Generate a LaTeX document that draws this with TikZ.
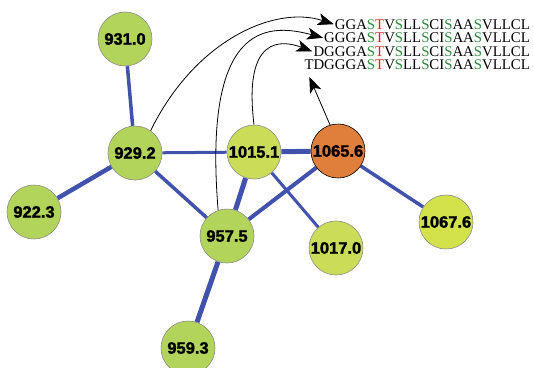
\documentclass[tikz,border=0pt]{standalone}
\usepackage{fontspec}
\setmainfont{Liberation Serif}
\setsansfont{Liberation Sans}[BoldFeatures={FakeBold=1.6}]
\usetikzlibrary{backgrounds,arrows.meta}
\definecolor{leaf}{HTML}{B3D45A}
\definecolor{lime}{HTML}{CBDD58}
\definecolor{pumpkin}{HTML}{DF7F3B}
\definecolor{bond}{HTML}{4152AD}
\definecolor{sgreen}{HTML}{2E8B3C}
\definecolor{tred}{HTML}{E02020}
\def\sS{\textcolor{sgreen}{S}}
\def\tT{\textcolor{tred}{T}}
\def\motif{GGA\sS\tT V\sS LL\sS CI\sS AA\sS VLLCL}

\begin{document}
\begin{tikzpicture}[x=1pt, y=-1pt,
  peak/.style={circle, minimum size=54pt, inner sep=0pt, draw=black!45, line width=0.6pt,
    font=\sffamily\bfseries\fontsize{16.5}{18}\selectfont},
  seq/.style={anchor=base east, inner sep=1pt, font=\fontsize{14.8}{16}\selectfont},
  link/.style={draw=bond},
  hop/.style={-{Stealth[length=16pt,width=12pt,inset=4pt]}, line width=0.8pt}]
\useasboundingbox (0,0) rectangle (534,367);

% peaks
\node[peak, fill=leaf] (p931) at (125,39) {931.0};
\node[peak, fill=leaf] (p929) at (135,153) {929.2};
\node[peak, fill=leaf] (p922) at (34,212) {922.3};
\node[peak, fill=leaf] (p957) at (227,236) {957.5};
\node[peak, fill=leaf] (p959) at (188,348) {959.3};
\node[peak, fill=lime] (p1015) at (254,152) {1015.1};
\node[peak, fill=lime] (p1017) at (336,248) {1017.0};
\node[peak, fill=lime!85!yellow] (p1067) at (446,222) {1067.6};
\node[peak, fill=pumpkin, draw=black] (p1065) at (338,151) {1065.6};

% sequences
\node[seq] (s1) at (531,29) {\motif};
\node[seq] (s2) at (531,42.6) {G\motif};
\node[seq] (s3) at (531,56.2) {DG\motif};
\node[seq] (s4) at (531,69.8) {TDG\motif};

% links
\begin{scope}[on background layer]
\draw[link, line width=3.5pt] (p929) -- (p931);
\draw[link, line width=4.5pt] (p929) -- (p922);
\draw[link, line width=3pt] (p929) -- (p1015);
\draw[link, line width=3.5pt] (p929) -- (p957);
\draw[link, line width=5pt] (p1015) -- (p1065);
\draw[link, line width=5pt] (p1015) -- (p957);
\draw[link, line width=4pt] (p957) -- (p1065);
\draw[link, line width=3pt] (p1015) -- (p1017);
\draw[link, line width=3.5pt] (p1065) -- (p1067);
\draw[link, line width=5pt] (p957) -- (p959);
\end{scope}

% arrows
\draw[hop] (p929.55) .. controls (195,40) and (275,5) .. (s1.west);
\draw[hop] (p957.109) .. controls (203,25) and (265,22) .. (s2.west);
\draw[hop] (p1015.90) .. controls (243,35) and (282,40) .. (s3.west);
\draw[hop] (p1065.107) -- ([xshift=6pt,yshift=-7pt]s4.base west);
\end{tikzpicture}
\end{document}
